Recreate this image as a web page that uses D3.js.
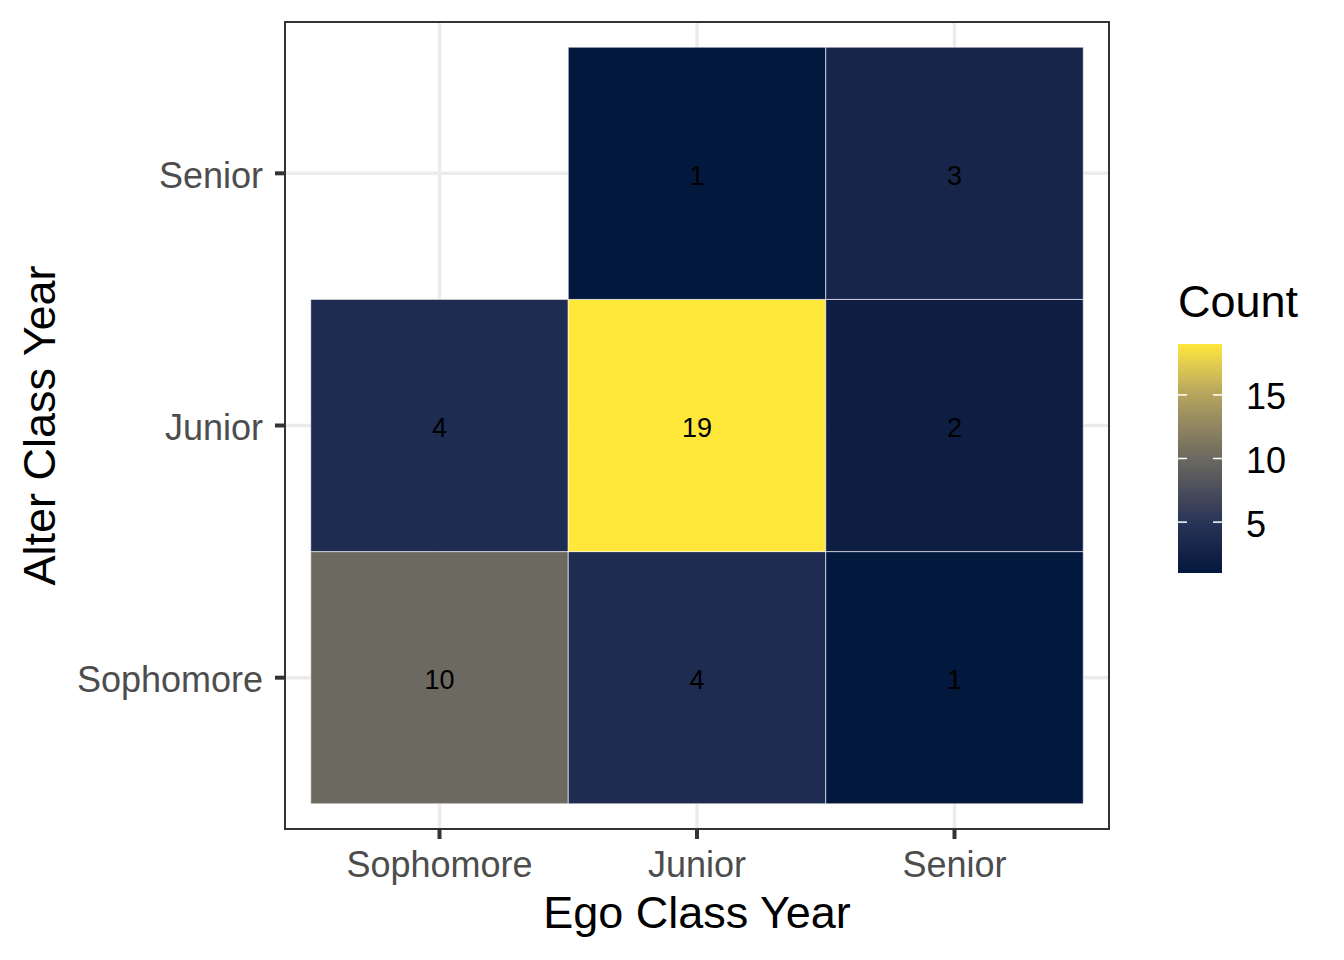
<!DOCTYPE html>
<html><head><meta charset="utf-8">
<script src="https://cdn.jsdelivr.net/npm/d3@7"></script>
<style>body{margin:0;background:#fff}svg{display:block}text{font-family:"Liberation Sans",Arial,Helvetica,sans-serif}</style>
</head><body>
<svg id="c" width="1344" height="960"></svg>
<script>
const categories = ["Sophomore", "Junior", "Senior"];
const egoYear   = ["Sophomore","Sophomore","Junior","Junior","Junior","Senior","Senior","Senior"];
const alterYear = ["Sophomore","Junior","Sophomore","Junior","Senior","Sophomore","Junior","Senior"];
const counts    = [10, 4, 4, 19, 1, 1, 2, 3];
const legendTicks = [5, 10, 15];

const colorStops = [1, 2, 3, 4, 5, 10, 15, 19];
const colorRange = ["#02183d","#0e1e42","#17254a","#1f2c51","#283456","#6b6960","#b5a35f","#ffe83a"];

const cells = counts.map((c,i)=>({ego:egoYear[i], alter:alterYear[i], count:c}));

const svg = d3.select("#c");
const L = 285, R = 1109, T = 22, B = 829;

const xLin = d3.scaleLinear().domain([0.4, 3.6]).range([L, R]);
const yLin = d3.scaleLinear().domain([0.4, 3.6]).range([B, T]);
const xIdx = d => categories.indexOf(d) + 1;
const x = d => xLin(xIdx(d));
const y = d => yLin(xIdx(d));

const color = d3.scaleLinear().domain(colorStops).range(colorRange).interpolate(d3.interpolateLab).clamp(true);

const g = svg.append("g");
g.selectAll(".gx").data(categories).join("line")
  .attr("x1", d=>x(d)).attr("x2", d=>x(d)).attr("y1", T).attr("y2", B)
  .attr("stroke", "#ebebeb").attr("stroke-width", 3.4);
g.selectAll(".gy").data(categories).join("line")
  .attr("y1", d=>y(d)).attr("y2", d=>y(d)).attr("x1", L).attr("x2", R)
  .attr("stroke", "#ebebeb").attr("stroke-width", 3.4);

const w = xLin(1.5) - xLin(0.5);
const h = yLin(0.5) - yLin(1.5);
g.selectAll("rect.tile").data(cells).join("rect")
  .attr("class","tile")
  .attr("x", d=>xLin(xIdx(d.ego)-0.5))
  .attr("y", d=>yLin(xIdx(d.alter)+0.5))
  .attr("width", w).attr("height", h)
  .attr("fill", d=>color(d.count))
  .attr("stroke", "rgba(255,255,255,0.6)").attr("stroke-width", 1);

g.selectAll("text.lab").data(cells).join("text")
  .attr("x", d=>x(d.ego)).attr("y", d=>y(d.alter))
  .attr("dy", "0.42em").attr("text-anchor","middle")
  .attr("font-size", 27).attr("fill","#000")
  .text(d=>d.count);

svg.append("rect").attr("x", L).attr("y", T).attr("width", R-L).attr("height", B-T)
  .attr("fill","none").attr("stroke","#333333").attr("stroke-width", 2);

svg.selectAll(".tx").data(categories).join("line")
  .attr("x1", d=>x(d)).attr("x2", d=>x(d)).attr("y1", B).attr("y2", B+10)
  .attr("stroke","#333333").attr("stroke-width", 4);
svg.selectAll(".ty").data(categories).join("line")
  .attr("y1", d=>y(d)).attr("y2", d=>y(d)).attr("x1", L-10).attr("x2", L)
  .attr("stroke","#333333").attr("stroke-width", 4);

svg.selectAll(".lx").data(categories).join("text")
  .attr("x", d=>x(d)).attr("y", 877).attr("text-anchor","middle")
  .attr("font-size", 36).attr("fill","#4d4d4d").text(d=>d);
svg.selectAll(".ly").data(categories).join("text")
  .attr("x", 263).attr("y", d=>y(d)).attr("dy","0.40em").attr("text-anchor","end")
  .attr("font-size", 36).attr("fill","#4d4d4d").text(d=>d);

svg.append("text").attr("x", (L+R)/2).attr("y", 928).attr("text-anchor","middle")
  .attr("font-size", 45).attr("fill","#000").text("Ego Class Year");
svg.append("text").attr("transform", `translate(55,${(T+B)/2}) rotate(-90)`)
  .attr("text-anchor","middle").attr("font-size", 45).attr("fill","#000").text("Alter Class Year");

const lx = 1178, lw = 44, lTop = 344, lBot = 573;
const ls = d3.scaleLinear().domain([1, 19]).range([lBot, lTop]);
const defs = svg.append("defs");
const grad = defs.append("linearGradient").attr("id","lg").attr("x1","0").attr("y1","1").attr("x2","0").attr("y2","0");
d3.range(0, 1.0001, 0.05).forEach(t=>{
  grad.append("stop").attr("offset", t).attr("stop-color", color(1 + t*18));
});
svg.append("rect").attr("x", lx).attr("y", lTop).attr("width", lw).attr("height", lBot-lTop).attr("fill","url(#lg)");
legendTicks.forEach(v=>{
  svg.append("line").attr("x1", lx).attr("x2", lx+9).attr("y1", ls(v)).attr("y2", ls(v)).attr("stroke","#fff").attr("stroke-width",1.5);
  svg.append("line").attr("x1", lx+lw-9).attr("x2", lx+lw).attr("y1", ls(v)).attr("y2", ls(v)).attr("stroke","#fff").attr("stroke-width",1.5);
});
svg.selectAll(".lt").data(legendTicks).join("text")
  .attr("x", 1246).attr("y", d=>ls(d)).attr("dy","0.40em")
  .attr("font-size", 36).attr("fill","#000").text(d=>d);
svg.append("text").attr("x", lx).attr("y", 317).attr("font-size", 45).attr("fill","#000").text("Count");
</script>
</body></html>
